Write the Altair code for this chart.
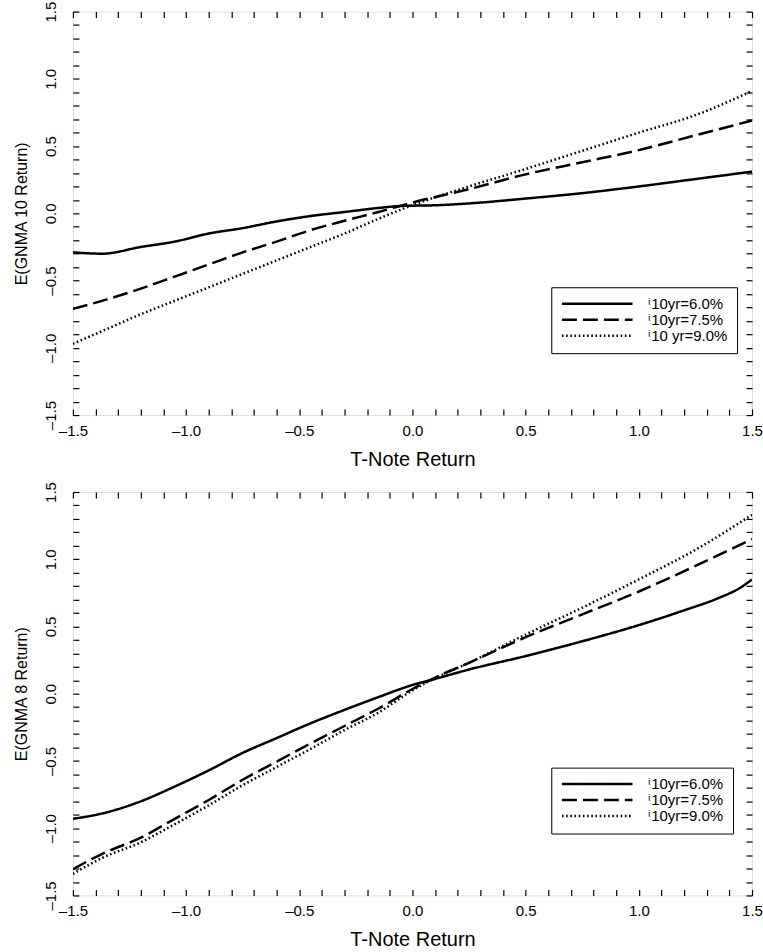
import altair as alt
import pandas as pd

FONT = "Liberation Sans"

# ---------------- top panel: E(GNMA 10 Return) ----------------
top_labels = ["\u207110yr=6.0%", "\u207110yr=7.5%", "\u207110 yr=9.0%"]

top_x_60 = [-1.5, -1.37, -1.2, -1.05, -0.9, -0.75, -0.6, -0.45, -0.3, -0.15, -0.05, 0.1, 0.3, 0.5, 0.75, 1.0, 1.25, 1.5]
top_y_60 = [-0.29, -0.30, -0.25, -0.21, -0.15, -0.11, -0.06, -0.02, 0.01, 0.04, 0.055, 0.06, 0.08, 0.11, 0.15, 0.2, 0.255, 0.31]

top_x_75 = [-1.5, -1.35, -1.2, -1.05, -0.9, -0.75, -0.6, -0.45, -0.3, -0.15, 0.0, 0.25, 0.5, 0.75, 1.0, 1.25, 1.5]
top_y_75 = [-0.71, -0.64, -0.56, -0.47, -0.38, -0.29, -0.21, -0.125, -0.055, 0.01, 0.08, 0.18, 0.29, 0.38, 0.47, 0.58, 0.69]

top_x_90 = [-1.5, -1.37, -1.2, -1.05, -0.9, -0.75, -0.6, -0.45, -0.3, -0.15, 0.0, 0.25, 0.5, 0.75, 1.0, 1.25, 1.5]
top_y_90 = [-0.97, -0.875, -0.75, -0.65, -0.55, -0.45, -0.35, -0.25, -0.15, -0.04, 0.06, 0.2, 0.33, 0.465, 0.6, 0.73, 0.91]

# ---------------- bottom panel: E(GNMA 8 Return) ----------------
bot_labels = ["\u207110yr=6.0%", "\u207110yr=7.5%", "\u207110yr=9.0%"]

bot_x_60 = [-1.5, -1.37, -1.2, -1.05, -0.9, -0.75, -0.6, -0.45, -0.3, -0.15, 0.0, 0.1, 0.25, 0.5, 0.75, 1.0, 1.2, 1.35, 1.45, 1.5]
bot_y_60 = [-0.93, -0.89, -0.80, -0.69, -0.57, -0.44, -0.33, -0.22, -0.12, -0.025, 0.065, 0.11, 0.18, 0.28, 0.39, 0.51, 0.62, 0.71, 0.79, 0.85]

bot_x_75 = [-1.5, -1.37, -1.2, -1.05, -0.9, -0.75, -0.6, -0.45, -0.3, -0.15, 0.0, 0.1, 0.25, 0.5, 0.75, 1.0, 1.25, 1.5]
bot_y_75 = [-1.305, -1.19, -1.07, -0.93, -0.79, -0.64, -0.505, -0.37, -0.24, -0.11, 0.035, 0.12, 0.23, 0.42, 0.59, 0.76, 0.95, 1.15]

bot_x_90 = [-1.5, -1.37, -1.2, -1.05, -0.9, -0.75, -0.6, -0.45, -0.3, -0.15, 0.0, 0.1, 0.25, 0.5, 0.75, 1.0, 1.25, 1.5]
bot_y_90 = [-1.34, -1.22, -1.105, -0.97, -0.83, -0.68, -0.545, -0.41, -0.27, -0.14, 0.025, 0.115, 0.23, 0.44, 0.64, 0.85, 1.07, 1.33]

tick_values = [round(-1.5 + 0.1 * i, 1) for i in range(31)]
dash_range = [[1, 0], [15, 6], [1.6, 2.6]]
width_range = [2.5, 2.5, 1.1]


def build_df(labels, series):
    rows = []
    for lab, (xs, ys) in zip(labels, series):
        for x, y in zip(xs, ys):
            rows.append({"series": lab, "x": x, "y": y})
    return pd.DataFrame(rows)


LABEL_EXPR = ("abs(round(datum.value*10)) % 5 == 0 ? "
              "replace(replace(format(datum.value, '.1f'), '\u2212', '\u2013'), '-', '\u2013') : ''")


def panel(df, labels, ytitle):
    xs = alt.Scale(domain=[-1.5, 1.5], nice=False, zero=False)
    ys = alt.Scale(domain=[-1.5, 1.5], nice=False, zero=False)
    leg = dict(title=None, orient="none", legendX=479, legendY=276,
               strokeColor="black", fillColor="white", padding=9,
               symbolType="stroke", symbolSize=5000, symbolStrokeColor="black",
               labelFont=FONT, labelFontSize=15, labelColor="black",
               clipHeight=15, rowPadding=0, labelOffset=14, symbolOffset=0)
    common_ax = dict(values=tick_values, tickSize=6, offset=-6, domain=False, grid=False,
                     ticks=True, tickColor="black", tickWidth=1.2, zindex=2)
    lines = alt.Chart(df).mark_line(color="black", clip=True, interpolate="monotone").encode(
        x=alt.X("x:Q", scale=xs, axis=alt.Axis(
            orient="bottom", labelExpr=LABEL_EXPR, title="T-Note Return",
            labelPadding=8, titlePadding=11, titleFontSize=20, labelFontSize=15,
            titleFontWeight="normal",
            labelFlush=False, labelOverlap=False, **common_ax)),
        y=alt.Y("y:Q", scale=ys, axis=alt.Axis(
            orient="left", labelExpr=LABEL_EXPR, title=ytitle, labelAngle=270,
            labelAlign="center", labelBaseline="bottom", labelPadding=14,
            titlePadding=14, titleFontSize=16, labelFontSize=15,
            titleFontWeight="normal",
            labelFlush=False, labelOverlap=False, **common_ax)),
        strokeDash=alt.StrokeDash("series:N", scale=alt.Scale(domain=labels, range=dash_range),
                                  legend=alt.Legend(**leg)),
        strokeWidth=alt.StrokeWidth("series:N", scale=alt.Scale(domain=labels, range=width_range),
                                    legend=alt.Legend(**leg)),
    )
    frame = alt.Chart(df).mark_point(opacity=0).encode(
        x=alt.X("x:Q", scale=xs, axis=alt.Axis(orient="top", labels=False, title=None, **common_ax)),
        y=alt.Y("y:Q", scale=ys, axis=alt.Axis(orient="right", labels=False, title=None, **common_ax)),
    )
    return alt.layer(lines, frame).resolve_axis(x="independent", y="independent").properties(
        width=680, height=404)


top_df = build_df(top_labels, [(top_x_60, top_y_60), (top_x_75, top_y_75), (top_x_90, top_y_90)])
bot_df = build_df(bot_labels, [(bot_x_60, bot_y_60), (bot_x_75, bot_y_75), (bot_x_90, bot_y_90)])

chart = alt.vconcat(
    panel(top_df, top_labels, "E(GNMA 10 Return)"),
    panel(bot_df, bot_labels, "E(GNMA 8 Return)"),
    spacing=77, bounds="flush",
).resolve_scale(strokeDash="independent", strokeWidth="independent").resolve_legend(
    strokeDash="independent", strokeWidth="independent"
).properties(
    padding={"left": 13, "top": 0, "right": 0, "bottom": 0}
).configure_view(stroke="black", strokeWidth=1.5).configure_axis(
    labelFont=FONT, titleFont=FONT, labelColor="black", titleColor="black", titleFontWeight="normal"
).configure(background="white")

chart.save("out.html", embed_options={"renderer": "svg", "actions": False})
